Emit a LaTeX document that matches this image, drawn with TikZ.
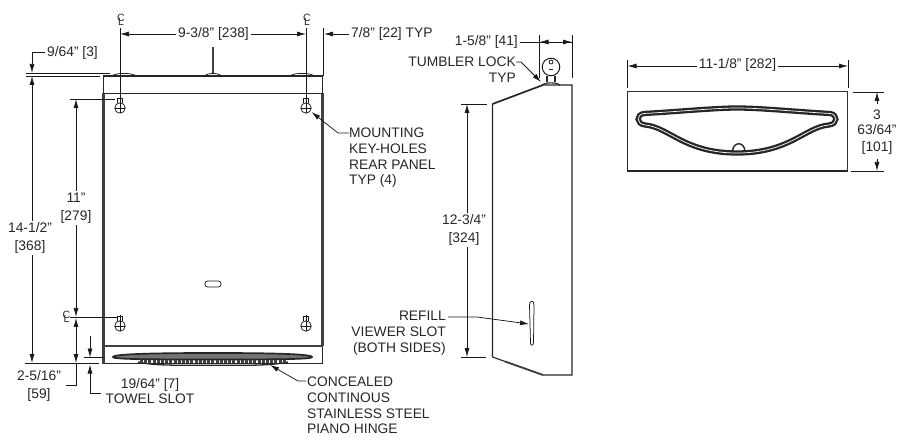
\documentclass[tikz,border=0pt]{standalone}
\usepackage{fontspec}
\setmainfont{Liberation Sans}
\usetikzlibrary{arrows.meta}
\newcommand{\clmark}{C\kern-6.5pt\raisebox{-4.5pt}{L}}
\tikzset{
  lbl/.style={inner sep=2pt, text=black!85, font=\fontsize{13.8}{15.7}\selectfont, align=center},
  cl/.style={inner sep=0pt, text=black!85, font=\fontsize{10.5}{11}\selectfont},
  part/.style={draw=black!85, line width=1.1pt},
  heavy/.style={draw=black!75, line width=2.2pt},
  dim/.style={draw=black!90, line width=.75pt},
  tip/.style={dim, -{Latex[length=9pt,width=5pt]}},
  tail/.style={dim, {Latex[length=9pt,width=5pt]}-}
}
\begin{document}
\begin{tikzpicture}[x=1pt,y=-1pt]
  \useasboundingbox (0,0) rectangle (907,443);

  % front view
  \draw[part] (103.5,76) rectangle (322.5,363.5);
  \draw[heavy] (103.5,93) -- (103.5,363.5);
  \draw[heavy] (322.5,93) -- (322.5,346);
  \draw[draw=black!85, line width=1.8pt] (322.5,76) -- (322.5,93);
  \draw[draw=black!85, line width=1.7pt] (103.5,93.5) -- (322.5,93.5);
  \draw[draw=black!75, line width=1.5pt] (103.5,346) -- (322.5,346);
  \foreach \a/\b in {112/136, 204/222, 290/314}{
    \draw[dim] (\a,76) .. controls (\a+4,72.5) and (\b-4,72.5) .. (\b,76);
  }
  \draw[draw=black!75, line width=1.6pt] (213,47) -- (213,73);
  \draw[dim, rounded corners=2.5pt] (205,281) rectangle (221,287);

  % key-holes
  \foreach \n/\x/\y in {ka/120/108, kb/306/108, kc/120/326, kd/306/326}{
    \coordinate (\n) at (\x,\y);
    \draw[dim] (\n) circle (5.2pt);
    \draw[dim] (\x-5.2,\y) -- (\x+5.2,\y) (\x,\y-11) -- (\x,\y+5.2);
    \draw[dim] (\x-2.5,\y-4.6) -- (\x-2.5,\y-10) -- (\x+2.5,\y-10) -- (\x+2.5,\y-4.6);
  }

  % towel slot and hinge
  \draw[draw=black!85, line width=1.7pt, fill=black!55]
    (113,357) .. controls (113,353.5) and (170,353) .. (213,353)
    .. controls (256,353) and (312,353.5) .. (312,357)
    .. controls (312,359) and (290,359.5) .. (213,359.5)
    .. controls (136,359.5) and (113,359) .. (113,357) -- cycle;
  \draw[draw=black!85, line width=1.3pt] (138,362) .. controls (150,365) and (170,365.3) .. (190,365.3) -- (240,365.3) .. controls (255,365.3) and (275,365) .. (288,362);
  \draw[draw=black!75, line width=2.4pt, dash pattern=on 3pt off 1.2pt] (140,361.5) -- (286,361.5);

  % side view
  \draw[part] (492.5,104) -- (492.5,357) -- (543,375) -- (572,375) -- (572,85) -- (543,85);
  \draw[draw=black!85, line width=1.7pt] (492.5,104) -- (543,85);
  \draw[draw=black!75, line width=1.8pt] (505,361.5) -- (543,375);
  \draw[dim] (529.5,305) .. controls (529.5,300) and (534,300) .. (534,305) -- (533.5,343) .. controls (533,346) and (530.5,346) .. (530.5,343) -- cycle;

  % lock
  \coordinate (lock) at (551,67);
  \draw[dim, line width=1pt] (lock) circle (8.8pt);
  \draw[dim] (551,62) circle (2pt);
  \draw[draw=black!85, line width=1.3pt] (549,69.5) -- (553,69.5);
  \draw[part] (547,76) -- (547,82) (555,76) -- (555,82);
  \draw[part] (542,85.5) .. controls (543,82) and (559,82) .. (560,85.5);

  % top view
  \draw[draw=black!80, line width=1pt] (627.5,92) rectangle (847.5,171);
  \draw[draw=black!85, line width=1.9pt] (627.5,92) -- (627.5,171) -- (847.5,171);
  \draw[draw=black!85, line width=2.3pt, double=white, double distance=.7pt]
    (644,113.5) .. controls (680,111.5) and (715,108) .. (737,108)
    .. controls (760,108) and (795,111.5) .. (830,113.5)
    .. controls (838,114.5) and (838,124) .. (829,125)
    .. controls (805,127) and (790,153) .. (737,153)
    .. controls (684,153) and (669,127) .. (645,125)
    .. controls (636,124) and (636,114.5) .. (644,113.5) -- cycle;
  \draw[draw=black!85, line width=1.4pt] (732.5,152) .. controls (732.5,141) and (745,141) .. (745,152);

  % dimensions, front view
  \node[cl] (cla) at (120.5,20) {\clmark};
  \node[cl] (clb) at (306.5,20) {\clmark};
  \node[cl] (clc) at (66,317) {\clmark};
  \draw[dim] (120,28) -- (120,97);
  \draw[dim] (306,28) -- (306,97);
  \draw[dim] (323.5,28) -- (323.5,76);
  \node[lbl] (d238) at (213.5,34) {9-3/8" [238]};
  \coordinate (d238l) at (120,34);
  \coordinate (d238r) at (306,34);
  \draw[tip] (d238.west |- d238l) -- (d238l);
  \draw[tip] (d238.east |- d238r) -- (d238r);
  \node[lbl, anchor=west] (d22) at (349,34) {7/8" [22] TYP};
  \coordinate (d22end) at (324,34);
  \draw[tip] (d22.west |- d22end) -- (d22end);

  \node[lbl, anchor=west] (d3) at (45,53) {9/64" [3]};
  \draw[tip] (d3.west |- 0,52) -- (32,52) -- (32,73);
  \draw[dim] (26,73) -- (110,73);
  \draw[dim] (26,76) -- (100,76);
  \node[lbl] (d368) at (30,238) {14-1/2"\\[2pt]{}[368]};
  \coordinate (d368a) at (32,76);
  \coordinate (d368b) at (32,363);
  \draw[tip] (d368.north -| d368a) -- (d368a);
  \draw[tip] (d368.south -| d368a) -- (d368b);
  \draw[dim] (25,363.5) -- (99,363.5);

  \node[lbl] (d279) at (76,208) {11"\\[2pt]{}[279]};
  \coordinate (d279a) at (76,99);
  \coordinate (d279b) at (76,317);
  \draw[tip] (d279) -- (d279a);
  \draw[tip] (d279) -- (d279b);
  \draw[dim] (70,99) -- (115,99);
  \draw[dim] (clc.east |- d279b) -- (117,317);

  \node[lbl] (d59) at (39,386) {2-5/16"\\[2pt]{}[59]};
  \coordinate (d59a) at (76,318);
  \coordinate (d59b) at (76,363);
  \draw[tail] (d59a) -- (76,340);
  \draw[tip] (76,340) -- (d59b);
  \draw[dim] (d59b) -- (76,385) -- (66,385);

  \node[lbl, anchor=north] (d7) at (150,376) {19/64" [7]\\TOWEL SLOT};
  \coordinate (d7a) at (90,357.5);
  \coordinate (d7b) at (90,364.5);
  \draw[tip] (90,336) -- (d7a);
  \draw[tip] (101,393) -- (90,393) -- (d7b);
  \draw[dim] (84,357.5) -- (105,357.5);

  \node[lbl, anchor=north west, align=left] (keyholes) at (347,126) {MOUNTING\\KEY-HOLES\\REAR PANEL\\TYP (4)};
  \coordinate (keyend) at (311.5,112);
  \draw[tip] (349,133) -- (338,133) -- (keyend);
  \node[lbl, anchor=north west, align=left] (hinge) at (305,375) {CONCEALED\\CONTINOUS\\STAINLESS STEEL\\PIANO HINGE};
  \coordinate (hingeend) at (270,365);
  \draw[tip] (306,381) -- (298,381) -- (hingeend);

  % dimensions, side view
  \node[lbl, anchor=east] (d41) at (520,42) {1-5/8" [41]};
  \draw[dim] (539.5,35) -- (539.5,78);
  \draw[dim] (572,35) -- (572,78);
  \coordinate (d41a) at (539.5,42);
  \coordinate (d41b) at (572,42);
  \draw[dim] (d41.east) -- (d41b);
  \draw[tip] (554,42) -- (d41a);
  \draw[tip] (558,42) -- (d41b);
  \node[lbl, anchor=north east, align=right] (tumbler) at (518,54.5) {TUMBLER LOCK\\TYP};
  \coordinate (tumblerend) at (541,82);
  \draw[tip] (516,62) -- (521,62) -- (tumblerend);

  \node[lbl] (d324) at (464,230) {12-3/4"\\[2pt]{}[324]};
  \coordinate (d324a) at (467,104);
  \coordinate (d324b) at (467,357);
  \draw[tip] (d324.north -| d324a) -- (d324a);
  \draw[tip] (d324.south -| d324a) -- (d324b);
  \draw[dim] (461,104) -- (487,104);
  \draw[dim] (461,357) -- (486,357);
  \node[lbl, anchor=north east, align=right] (viewer) at (448,309) {REFILL\\VIEWER SLOT\\(BOTH SIDES)};
  \coordinate (viewerend) at (529,324);
  \draw[tip] (448,317) -- (477,317) -- (viewerend);

  % dimensions, top view
  \node[lbl] (d282) at (737.5,65) {11-1/8" [282]};
  \coordinate (d282a) at (627.5,66);
  \coordinate (d282b) at (848,66);
  \draw[tip] (d282.west |- d282a) -- (d282a);
  \draw[tip] (d282.east |- d282b) -- (d282b);
  \draw[dim] (627.5,60) -- (627.5,88);
  \draw[dim] (848,60) -- (848,88);
  \node[lbl] (d101) at (877,132) {3\\63/64"\\[1pt]{}[101]};
  \coordinate (d101a) at (877,92);
  \coordinate (d101b) at (877,171);
  \draw[tip] (877,104) -- (d101a);
  \draw[tip] (877,159) -- (d101b);
  \draw[dim] (853,92) -- (884,92);
  \draw[dim] (851,171) -- (884,171);
\end{tikzpicture}
\end{document}
